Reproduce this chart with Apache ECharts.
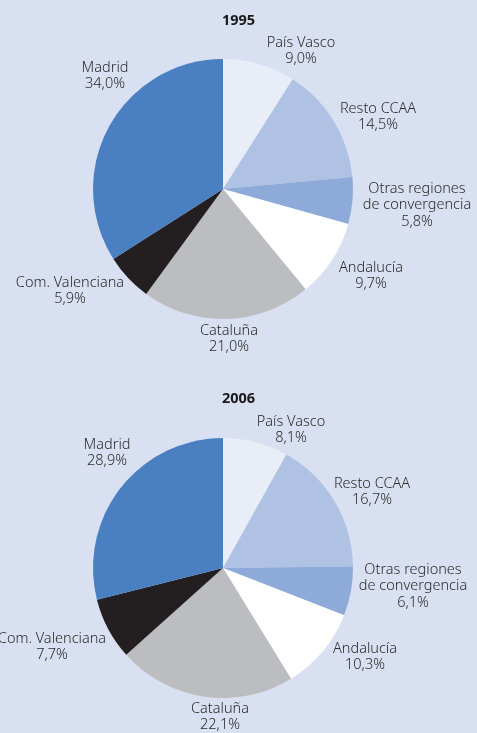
<!DOCTYPE html>
<html>
<head>
<meta charset="utf-8">
<script src="https://cdn.jsdelivr.net/npm/echarts@6/dist/echarts.min.js"></script>
<style>
html,body{margin:0;padding:0;background:#d9e0f1;}
#chart{width:477px;height:733px;}
</style>
</head>
<body>
<div id="chart"></div>
<script>
var categories = ['País Vasco', 'Resto CCAA', 'Otras regiones de convergencia', 'Andalucía', 'Cataluña', 'Com. Valenciana', 'Madrid'];
var values1995 = [9.0, 14.5, 5.8, 9.7, 21.0, 5.9, 34.0];
var values2006 = [8.1, 16.7, 6.1, 10.3, 22.1, 7.7, 28.9];
var years = ['1995', '2006'];

var colors = ['#e8edf8', '#b0c2e4', '#8eaad8', '#ffffff', '#bcbdc0', '#231f20', '#4a80c2'];
var centers = [[223, 189], [223, 568]];
var radius = 130;
// label offsets relative to pie centre (layout only)
var labelOffsets = [
  [[78, -138], [155, -72], [194, 16], [148, 87], [6, 150], [-153, 102], [-118, -113]],
  [[68, -138], [149, -76], [190, 18], [142, 89], [-3, 149], [-171, 79], [-116, -115]]
];

function fmt(v) { return v.toFixed(1).replace('.', ','); }
function nameLabel(n) { return n === 'Otras regiones de convergencia' ? 'Otras regiones\nde convergencia' : n; }

function makeSeries(values, idx) {
  return {
    type: 'pie',
    center: centers[idx],
    radius: radius,
    startAngle: 90,
    clockwise: true,
    avoidLabelOverlap: false,
    silent: true,
    animation: false,
    itemStyle: { borderWidth: 0 },
    label: {
      show: true,
      position: 'outside',
      formatter: function (p) { return nameLabel(p.name) + '\n' + fmt(p.value) + '%'; },
      fontFamily: 'Noto Sans',
      fontSize: 14.5,
      fontWeight: 300,
      lineHeight: 16.5,
      color: '#2a2a2a',
      align: 'center'
    },
    labelLine: { show: false },
    labelLayout: function (params) {
      var off = labelOffsets[idx][params.dataIndex];
      return {
        x: centers[idx][0] + off[0],
        y: centers[idx][1] + off[1],
        align: 'center',
        verticalAlign: 'middle'
      };
    },
    data: categories.map(function (c, i) {
      return { name: c, value: values[i], itemStyle: { color: colors[i] } };
    })
  };
}

var chart = echarts.init(document.getElementById('chart'));
chart.setOption({
  backgroundColor: '#d9e0f1',
  title: [
    { text: years[0], left: 'center', top: 8, textStyle: { fontFamily: 'Noto Sans', fontSize: 14.5, fontWeight: 'bold', color: '#1a1a1a' } },
    { text: years[1], left: 'center', top: 386, textStyle: { fontFamily: 'Noto Sans', fontSize: 14.5, fontWeight: 'bold', color: '#1a1a1a' } }
  ],
  series: [makeSeries(values1995, 0), makeSeries(values2006, 1)]
});
</script>
</body>
</html>
